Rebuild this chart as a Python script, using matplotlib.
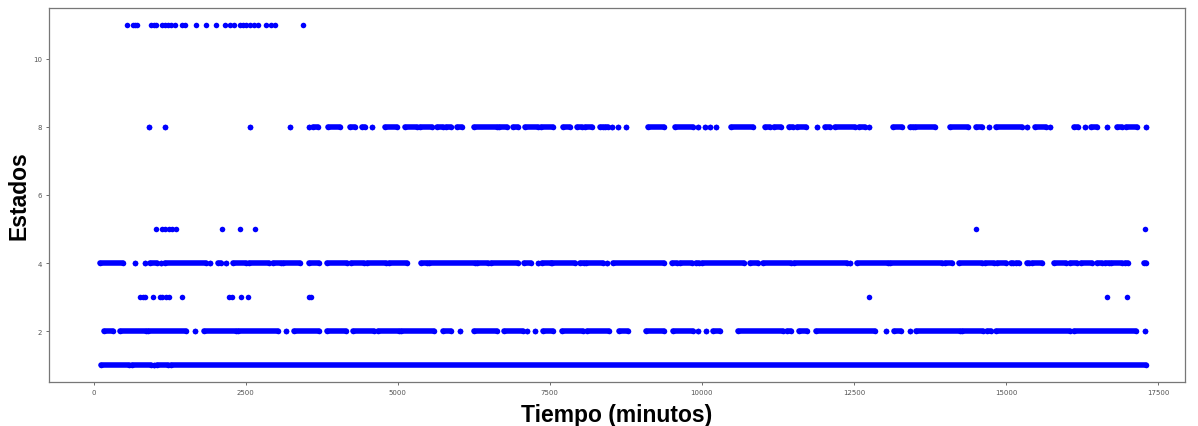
import matplotlib
matplotlib.use("Agg")
import matplotlib.pyplot as plt

# estados en el tiempo (minutos); tramos continuos como [inicio, fin]
estado1 = [[120, 590], [640, 940], [990, 990], [1040, 1220], [1270, 17300]]

estado2 = [[180, 320], [430, 870], [900, 1520], [1660, 1660], [1820, 2340],
           [2380, 3040], [3160, 3160], [3290, 3710], [3830, 4150], [4270, 4610],
           [4680, 5020], [5060, 5590], [5740, 5870], [6020, 6020], [6250, 6630],
           [6740, 7060], [7120, 7120], [7260, 7260], [7390, 7560], [7700, 8040],
           [8110, 8480], [8640, 8790], [9080, 9370], [9520, 9850], [9930, 9930],
           [10070, 10070], [10190, 10300], [10600, 11340], [11400, 11460],
           [11590, 11730], [11880, 12840], [13020, 13020], [13160, 13280],
           [13430, 13430], [13520, 14240], [14280, 14630], [14680, 14750],
           [14840, 16060], [16110, 17140], [17290, 17290]]

estado3 = [770, 810, 840, 970, 1090, 1130, 1190, 1240, 1450, 2220, 2280, 2420,
           2540, 3545, 3580, 12740, 16660, 16990]

estado4 = [[100, 490], [680, 680], [840, 840], [925, 1040], [1110, 1110],
           [1170, 1850], [1920, 1920], [2040, 2100], [2180, 2180], [2290, 2510],
           [2560, 2890], [2950, 3080], [3120, 3390], [3550, 3710], [3830, 4170],
           [4230, 4450], [4490, 4810], [4850, 5160], [5390, 5480], [5520, 6270],
           [6310, 6490], [6530, 6970], [7070, 7190], [7300, 7300], [7380, 7520],
           [7540, 7910], [7990, 8060], [8100, 8380], [8440, 8440], [8540, 9370],
           [9510, 9600], [9640, 9840], [9910, 9960], [10010, 10700], [10790, 10920],
           [11000, 11460], [11510, 12390], [12430, 12430], [12550, 13060],
           [13100, 13940], [13990, 14120], [14230, 14600], [14660, 14810],
           [14860, 15000], [15080, 15110], [15170, 15210], [15350, 15380],
           [15430, 15600], [15790, 15990], [16060, 16160], [16230, 16420],
           [16490, 16580], [16630, 16690], [16720, 16900], [16950, 17010],
           [17270, 17300]]

estado5 = [1030, 1120, 1180, 1240, 1290, 1350, 2120, 2410, 2650, 14500, 17290]

estado8 = [[910, 910], [1180, 1180], [2580, 2580], [3230, 3230], [3540, 3540],
           [3610, 3690], [3850, 4050], [4220, 4300], [4410, 4470], [4580, 4580],
           [4790, 4990], [5120, 5310], [5360, 5560], [5650, 5750], [5800, 5870],
           [5980, 6050], [6260, 6630], [6660, 6800], [6890, 6970], [7100, 7310],
           [7350, 7560], [7710, 7830], [7950, 8030], [8080, 8190], [8330, 8370],
           [8410, 8460], [8530, 8530], [8630, 8630], [8760, 8760], [9120, 9370],
           [9560, 9850], [9930, 9930], [10050, 10050], [10130, 10130],
           [10230, 10230], [10480, 10840], [11040, 11120], [11180, 11300],
           [11440, 11500], [11560, 11720], [11900, 11900], [12020, 12100],
           [12190, 12520], [12590, 12680], [12750, 12750], [13140, 13290],
           [13420, 13470], [13500, 13830], [14080, 14380], [14510, 14600],
           [14720, 14720], [14840, 15260], [15350, 15350], [15480, 15650],
           [15730, 15730], [16110, 16190], [16300, 16300], [16390, 16490],
           [16660, 16660], [16820, 16910], [16980, 17150], [17300, 17300]]

estado11 = [557, 652, 685, 718, 948, 997, 1030, 1129, 1178, 1227, 1277, 1342,
            1449, 1507, 1679, 1847, 2016, 2159, 2246, 2312, 2410, 2455, 2509,
            2575, 2640, 2706, 2829, 2911, 2980, 3440]

tramos = {1: estado1, 2: estado2, 4: estado4, 8: estado8}
puntos = {3: estado3, 5: estado5, 11: estado11}

color = "#0000ff"
ms = 16
lw = 4.0

fig = plt.figure(figsize=(11.98, 4.27), dpi=100)
ax = fig.add_axes([0.041, 0.103, 0.948, 0.876])

for est, tr in tramos.items():
    ini = [t[0] for t in tr]
    fin = [t[1] for t in tr]
    largos = [t for t in tr if t[1] > t[0]]
    ax.hlines([est] * len(largos), [t[0] for t in largos], [t[1] for t in largos],
              colors=color, linewidth=lw, capstyle="round")
    ax.scatter(ini + fin, [est] * (len(ini) + len(fin)), s=ms, color=color,
               linewidths=0)

for est, xs in puntos.items():
    ax.scatter(xs, [est] * len(xs), s=ms, color=color, linewidths=0)

ax.set_xlim(-730, 17940)
ax.set_ylim(0.5, 11.5)
ax.set_xticks([0, 2500, 5000, 7500, 10000, 12500, 15000, 17500])
ax.set_yticks([2, 4, 6, 8, 10])
ax.tick_params(labelsize=5, length=2, width=0.6, colors="#555555", pad=3)

for sp in ax.spines.values():
    sp.set_color("#777777")
    sp.set_linewidth(0.9)

ax.set_xlabel("Tiempo (minutos)", fontsize=16.5, fontweight="bold",
              family=["Liberation Sans", "DejaVu Sans"], labelpad=6)
ax.set_ylabel("Estados", fontsize=16.5, fontweight="bold",
              family=["Liberation Sans", "DejaVu Sans"], labelpad=2)

fig.savefig("out.png", dpi=100)
